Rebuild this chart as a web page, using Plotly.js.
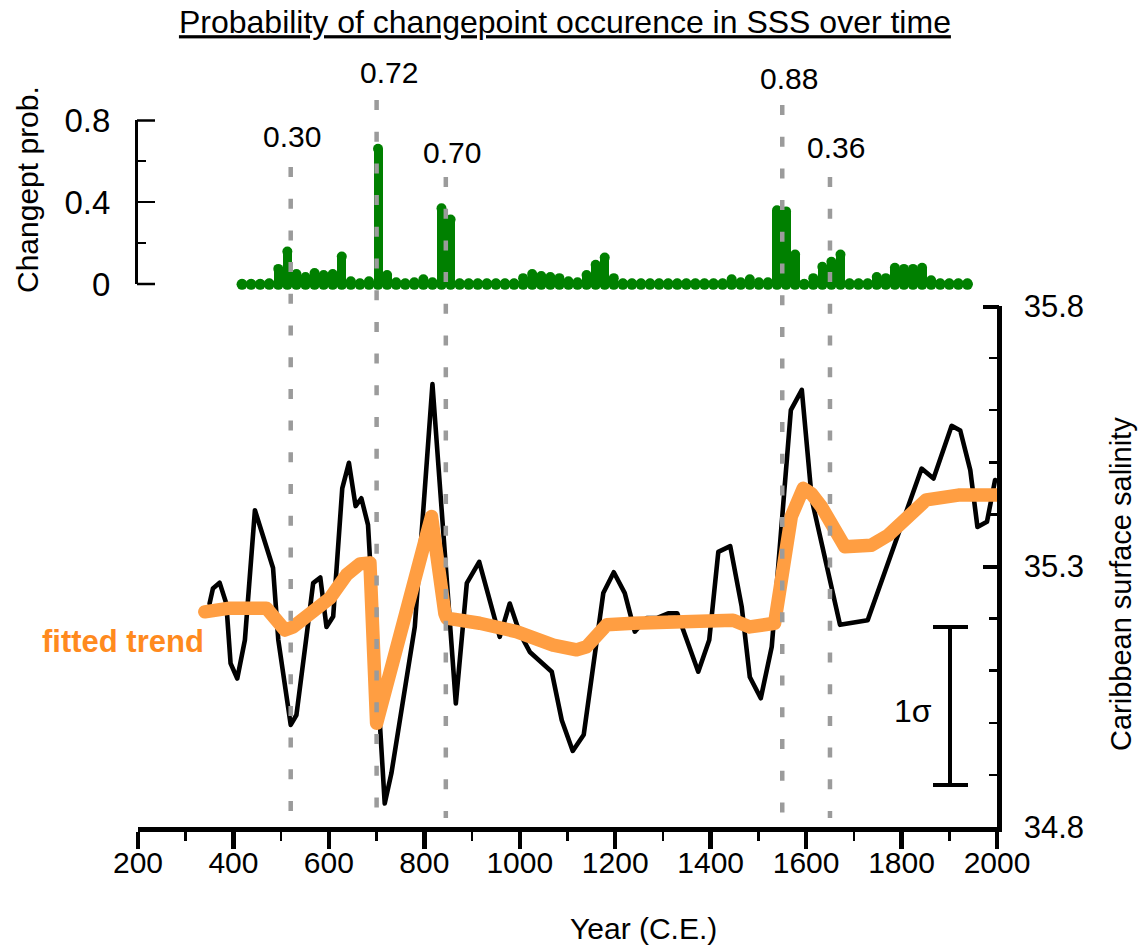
<!DOCTYPE html>
<html><head><meta charset="utf-8">
<script src="https://cdn.plot.ly/plotly-3.0.1.min.js"></script>
<style>html,body{margin:0;padding:0;background:#fff}</style>
</head><body>
<div id="chart" style="width:1139px;height:947px"></div>
<script>
// ---- data ----
const cpYears = [418, 437, 456, 475, 494, 513, 532, 551, 570, 589, 608, 627, 646, 665, 684, 703, 722, 741, 760, 779,
  798, 817, 836, 855, 874, 893, 912, 931, 950, 969, 988, 1007, 1026, 1045, 1064, 1083, 1102, 1121, 1140, 1159,
  1178, 1197, 1216, 1235, 1254, 1273, 1292, 1311, 1330, 1349, 1368, 1387, 1406, 1425, 1444, 1463, 1482, 1501, 1520, 1539,
  1558, 1577, 1596, 1615, 1634, 1653, 1672, 1691, 1710, 1729, 1748, 1767, 1786, 1805, 1824, 1843, 1862, 1881, 1900, 1919, 1938];
const cpProb = [0, 0, 0, 0.005, 0.075, 0.16, 0.05, 0.035, 0.055, 0.045, 0.05, 0.135, 0.015, 0.005, 0.015, 0.66, 0.045, 0.01, 0.005, 0.01,
  0.025, 0.01, 0.37, 0.315, 0.005, 0.005, 0.005, 0.005, 0.005, 0.005, 0.005, 0.03, 0.05, 0.04, 0.035, 0.03, 0.015, 0.01, 0.045, 0.095,
  0.13, 0.03, 0.005, 0.005, 0.005, 0.005, 0.005, 0.005, 0.005, 0.005, 0.005, 0.005, 0.005, 0.005, 0.025, 0.01, 0.025, 0.01, 0.01, 0.36,
  0.355, 0.145, 0, 0.03, 0.085, 0.11, 0.145, 0.005, 0.005, 0.005, 0.035, 0.03, 0.08, 0.075, 0.075, 0.08, 0.02, 0.005, 0.005, 0.005, 0.005];

const sssYears = [350, 357, 371, 385, 394, 408, 424, 445, 483, 494, 520, 532, 553, 567, 582, 595, 609, 628, 642, 656,
  668, 682, 687, 717, 731, 780, 817, 866, 889, 915, 958, 979, 1000, 1021, 1067, 1088, 1111, 1134,
  1175, 1197, 1220, 1241, 1266, 1287, 1311, 1330, 1350, 1374, 1397, 1416, 1441, 1465, 1482, 1505, 1528, 1568, 1591, 1612,
  1671, 1729, 1842, 1867, 1905, 1923, 1944, 1959, 1979, 1996];
const sssValues = [35.229, 35.258, 35.269, 35.229, 35.114, 35.085, 35.159, 35.408, 35.297, 35.159, 34.996, 35.015, 35.165, 35.268, 35.279, 35.184, 35.204, 35.450, 35.499, 35.416,
  35.431, 35.380, 35.300, 34.845, 34.903, 35.184, 35.650, 35.037, 35.268, 35.309, 35.165, 35.229, 35.172, 35.136, 35.098, 35.005, 34.946, 34.977,
  35.249, 35.289, 35.249, 35.175, 35.201, 35.201, 35.210, 35.210, 35.159, 35.098, 35.159, 35.328, 35.339, 35.223, 35.088, 35.047, 35.146, 35.600, 35.639, 35.428,
  35.188, 35.197, 35.488, 35.469, 35.570, 35.561, 35.485, 35.376, 35.386, 35.466];

const trendYears = [340, 392, 469, 508, 525, 564, 602, 619, 637, 665, 686, 700, 815, 843, 847, 916, 993, 1070, 1119, 1140,
  1182, 1238, 1322, 1447, 1482, 1507, 1534, 1569, 1594, 1611, 1632, 1681, 1737, 1772, 1800, 1852, 1919, 2000];
const trendValues = [35.213, 35.220, 35.220, 35.178, 35.184, 35.210, 35.239, 35.261, 35.284, 35.305, 35.307, 34.999, 35.396, 35.210, 35.201, 35.191, 35.175, 35.149, 35.140, 35.146,
  35.188, 35.191, 35.191, 35.197, 35.184, 35.188, 35.191, 35.396, 35.450, 35.440, 35.415, 35.338, 35.341, 35.360, 35.383, 35.428, 35.437, 35.437];

const changeYears = [520, 700, 845, 1550, 1650];
const changeLabels = ['0.30', '0.72', '0.70', '0.88', '0.36'];

const xTickVals = [200, 400, 600, 800, 1000, 1200, 1400, 1600, 1800, 2000];
const xTickText = ['200', '400', '600', '800', '1000', '1200', '1400', '1600', '1800', '2000'];
const probTickVals = [0, 0.4, 0.8];
const probTickText = ['0', '0.4', '0.8'];
const sssTickVals = [34.8, 35.3, 35.8];
const sssTickText = ['34.8', '35.3', '35.8'];

// ---- layout helpers (pixel -> paper) ----
const L = 138, R = 997, T = 100, B = 827;
const px = p => (p - L) / (R - L);
const py = p => (B - p) / (B - T);
const FONT = 'Liberation Sans, Arial, Helvetica, sans-serif';

// label placement: [label center y px, xshift px, dashed line top px]
const labelPlace = [[137, 1, 167], [72, 12, 100], [152, 6, 177], [78, 7, 105], [147, 6, 177]];

const GREEN = '#008000';
const data = [
  { type: 'bar', x: cpYears, y: cpProb, width: 19, xaxis: 'x', yaxis: 'y',
    marker: { color: GREEN, line: { width: 0 } }, hoverinfo: 'skip', showlegend: false },
  { type: 'scatter', mode: 'markers', x: cpYears, y: cpProb, xaxis: 'x', yaxis: 'y', cliponaxis: false,
    marker: { color: GREEN, size: 10, line: { width: 0 } }, showlegend: false },
  { type: 'scatter', mode: 'markers', x: cpYears, y: cpYears.map(() => 0), xaxis: 'x', yaxis: 'y', cliponaxis: false,
    marker: { color: GREEN, size: 11, line: { width: 0 } }, showlegend: false },
  { type: 'scatter', mode: 'lines', x: sssYears, y: sssValues, xaxis: 'x', yaxis: 'y2', cliponaxis: false,
    line: { color: '#000000', width: 4.6 }, showlegend: false },
  { type: 'scatter', mode: 'lines', x: trendYears, y: trendValues, xaxis: 'x', yaxis: 'y2', cliponaxis: false,
    line: { color: '#FF9E42', width: 13.5 }, showlegend: false }
];

const shapes = changeYears.map((yr, i) => ({
  type: 'line', xref: 'x', yref: 'paper', x0: yr, x1: yr, y0: py(labelPlace[i][2]), y1: py(818),
  line: { color: '#9b9b9b', width: 4.5, dash: '10px,21.7px' }, layer: 'above'
}));
// 1 sigma scale bar
shapes.push({ type: 'line', xref: 'paper', yref: 'paper', x0: px(950), x1: px(950), y0: py(627), y1: py(785), line: { color: '#000', width: 4 } });
shapes.push({ type: 'line', xref: 'paper', yref: 'paper', x0: px(933), x1: px(968), y0: py(627), y1: py(627), line: { color: '#000', width: 4 } });
shapes.push({ type: 'line', xref: 'paper', yref: 'paper', x0: px(933), x1: px(968), y0: py(785), y1: py(785), line: { color: '#000', width: 4 } });
// end ticks of the axes (Plotly drops inside ticks that sit on the range ends)
shapes.push({ type: 'line', xref: 'paper', yref: 'paper', x0: px(137), x1: px(155), y0: py(120.5), y1: py(120.5), line: { color: '#000', width: 2.5 } });
shapes.push({ type: 'line', xref: 'paper', yref: 'paper', x0: px(137), x1: px(155), y0: py(284), y1: py(284), line: { color: '#000', width: 2.5 } });
shapes.push({ type: 'line', xref: 'paper', yref: 'paper', x0: px(983), x1: px(999), y0: py(307), y1: py(307), line: { color: '#000', width: 4 } });

const annotations = changeYears.map((yr, i) => ({
  xref: 'x', yref: 'paper', x: yr, y: py(labelPlace[i][0]), xshift: labelPlace[i][1],
  text: changeLabels[i], showarrow: false, xanchor: 'center', yanchor: 'middle',
  font: { family: FONT, size: 30, color: '#000' }
}));
annotations.push(
  { xref: 'paper', yref: 'paper', x: px(206), y: py(641), xanchor: 'right', yanchor: 'middle', showarrow: false,
    text: '<b>fitted trend</b>', font: { family: FONT, size: 31, color: '#FF8A1E' } },
  { xref: 'paper', yref: 'paper', x: px(934), y: py(711), xanchor: 'right', yanchor: 'middle', showarrow: false,
    text: '1σ', font: { family: FONT, size: 32, color: '#000' } },
  { xref: 'paper', yref: 'paper', x: px(643), y: py(929), xanchor: 'center', yanchor: 'middle', showarrow: false,
    text: 'Year (C.E.)', font: { family: FONT, size: 30, color: '#000' } },
  { xref: 'paper', yref: 'paper', x: px(28), y: py(189), xanchor: 'center', yanchor: 'middle', showarrow: false, textangle: -90,
    text: 'Changept prob.', font: { family: FONT, size: 30, color: '#000' } },
  { xref: 'paper', yref: 'paper', x: px(1121), y: py(584), xanchor: 'center', yanchor: 'middle', showarrow: false, textangle: -90,
    text: 'Caribbean surface salinity', font: { family: FONT, size: 29, color: '#000' } }
);

const layout = {
  width: 1139, height: 947, autosize: false,
  margin: { l: L, r: 1139 - R, t: T, b: 947 - B, pad: 0 },
  paper_bgcolor: '#ffffff', plot_bgcolor: 'rgba(0,0,0,0)',
  font: { family: FONT, color: '#000' },
  showlegend: false,
  bargap: 0,
  title: { text: '<u>Probability of changepoint occurence in SSS over time</u>', xref: 'container', x: 0.496,
    yref: 'container', y: 1 - 22 / 947, xanchor: 'center', yanchor: 'middle',
    font: { family: FONT, size: 32, color: '#000' } },
  xaxis: {
    anchor: 'y2', range: [200, 2000], showgrid: false, zeroline: false,
    showline: true, linecolor: '#000', linewidth: 4.5,
    ticks: 'outside', ticklen: 17, tickwidth: 4.5, tickcolor: '#000',
    tickmode: 'array', tickvals: xTickVals, ticktext: xTickText,
    tickfont: { family: FONT, size: 30, color: '#000' }, ticklabelstandoff: -12,
    minor: { tickmode: 'linear', tick0: 100, dtick: 200, ticks: 'outside', ticklen: 9, tickwidth: 2.5, tickcolor: '#000', showgrid: false }
  },
  yaxis: {
    domain: [py(284.3), py(120)], anchor: 'x', side: 'left', range: [0, 0.8],
    showgrid: false, zeroline: false, showline: true, linecolor: '#000', linewidth: 3,
    ticks: 'inside', ticklen: 17, tickwidth: 2.5, tickcolor: '#000',
    tickmode: 'array', tickvals: probTickVals, ticktext: probTickText,
    tickfont: { family: FONT, size: 33, color: '#000' }, ticklabelstandoff: 18,
    minor: { tickmode: 'linear', tick0: 0.2, dtick: 0.4, ticks: 'inside', ticklen: 8, tickwidth: 1.5, tickcolor: '#000', showgrid: false }
  },
  yaxis2: {
    domain: [0, py(306)], anchor: 'x', side: 'right', range: [34.8, 35.8],
    showgrid: false, zeroline: false, showline: true, linecolor: '#000', linewidth: 4.5,
    ticks: 'inside', ticklen: 14, tickwidth: 4, tickcolor: '#000',
    tickmode: 'array', tickvals: sssTickVals, ticktext: sssTickText,
    tickfont: { family: FONT, size: 31, color: '#000' }, ticklabelstandoff: 16,
    minor: { tickmode: 'linear', tick0: 34.9, dtick: 0.1, ticks: 'inside', ticklen: 8, tickwidth: 2.5, tickcolor: '#000', showgrid: false }
  },
  shapes: shapes,
  annotations: annotations
};

Plotly.newPlot('chart', data, layout, { staticPlot: true, displayModeBar: false }).then(() => {
  document.querySelectorAll('.scatterlayer .js-line').forEach(p => {
    p.style.strokeLinejoin = 'round';
    p.style.strokeLinecap = 'round';
  });
});
</script>
</body></html>
